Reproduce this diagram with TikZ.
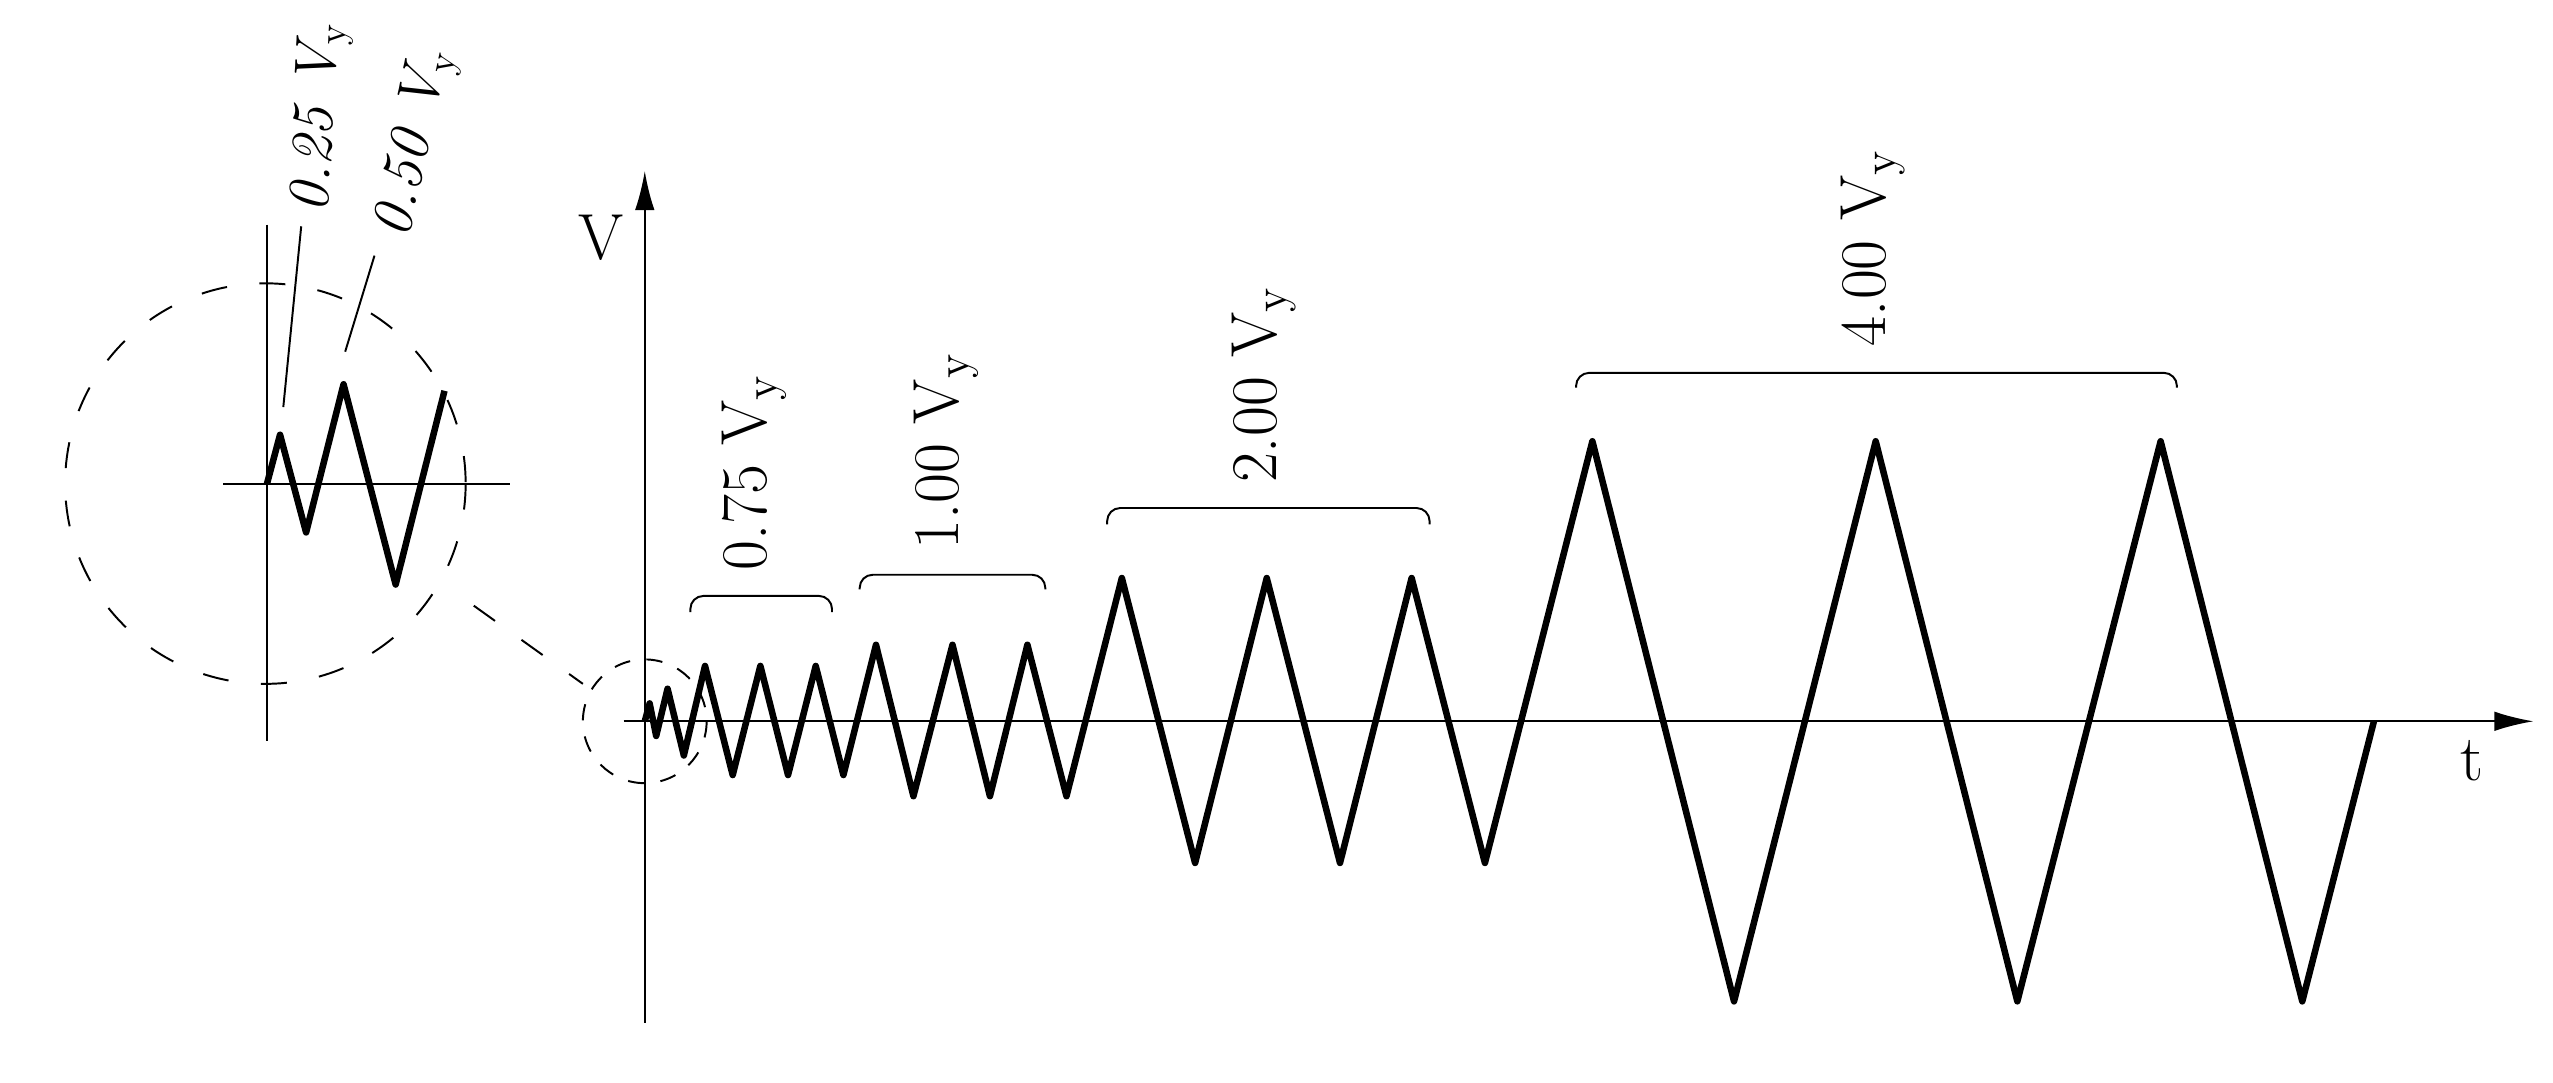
\documentclass[tikz,border=0pt]{standalone}
\usetikzlibrary{arrows.meta}
\begin{document}
\begin{tikzpicture}[x=0.5pt,y=-0.5pt,
  ax/.style={line width=0.6pt},
  zz/.style={line width=2pt,line join=round},
  dsh/.style={line width=0.6pt,dash pattern=on 8pt off 10pt},
  br/.style={line width=0.6pt,rounded corners=4pt},
  lbl/.style={font=\fontsize{20}{22}\selectfont,rotate=90,inner sep=0pt}]
\useasboundingbox (0,0) rectangle (1568,665);
% main axes
\coordinate (o) at (396,443);
\coordinate (vb) at (396,628);
\coordinate (vt) at (396,105);
\coordinate (tl) at (383,443);
\coordinate (tr) at (1556,443);
\draw[ax,-{Latex[length=12pt,width=6pt]}] (vb) -- (vt);
\draw[ax,-{Latex[length=12pt,width=6pt]}] (tl) -- (tr);
\node[font=\fontsize{20}{22}\selectfont] (V) at (369,146) {V};
\node[font=\fontsize{20}{22}\selectfont] (t) at (1518,467) {t};
% main zigzag
\draw[zz] (o) -- (399,432) -- (403,452) -- (410,423) -- (420,464) -- (433,409) -- (450,476) -- (467,409) -- (484,476) -- (501,409) -- (518,476) -- (538,396) -- (561,489) -- (585,396) -- (608,489) -- (631,396) -- (655,489) -- (689,355) -- (734,530) -- (778,355) -- (823,530) -- (867,355) -- (912,530) -- (978,271) -- (1065,615) -- (1152,271) -- (1239,615) -- (1327,271) -- (1414,615) -- (1458,443);
% braces
\draw[br] (424,376) -- (424,366) -- (511,366) -- (511,376);
\draw[br] (528,362) -- (528,353) -- (642,353) -- (642,362);
\draw[br] (680,322) -- (680,312) -- (878,312) -- (878,322);
\draw[br] (968,238) -- (968,229) -- (1337,229) -- (1337,238);
\node[lbl] (l75) at (463,290) {0.75 V$_{\mathrm{y}}$};
\node[lbl] (l100) at (581,277) {1.00 V$_{\mathrm{y}}$};
\node[lbl] (l200) at (776,236) {2.00 V$_{\mathrm{y}}$};
\node[lbl] (l400) at (1150,152) {4.00 V$_{\mathrm{y}}$};
% small circle and link
\draw[dsh,dash pattern=on 5pt off 5pt] (o) circle[radius=38];
\coordinate (ca) at (291,372);
\coordinate (cb) at (358,420);
\draw[dsh] (ca) -- (cb);
% inset
\draw[dsh] (163,297) circle[radius=123];
\draw[ax] (164,138) -- (164,455);
\draw[ax] (137,297) -- (313,297);
\draw[zz] (164,297) -- (172,267) -- (188,327) -- (211,236) -- (243,359) -- (273,240);
\coordinate (a1) at (174,250); \coordinate (a2) at (185,139);
\coordinate (b1) at (212,216); \coordinate (b2) at (230,157);
\draw[ax] (a1) -- (a2);
\draw[ax] (b1) -- (b2);
\node[lbl,rotate=-3,font=\fontsize{18}{20}\selectfont\itshape] (l25) at (197,72) {0.25 V$_{\mathrm{y}}$};
\node[lbl,rotate=-12,font=\fontsize{18}{20}\selectfont\itshape] (l50) at (256,88) {0.50 V$_{\mathrm{y}}$};
\end{tikzpicture}
\end{document}
